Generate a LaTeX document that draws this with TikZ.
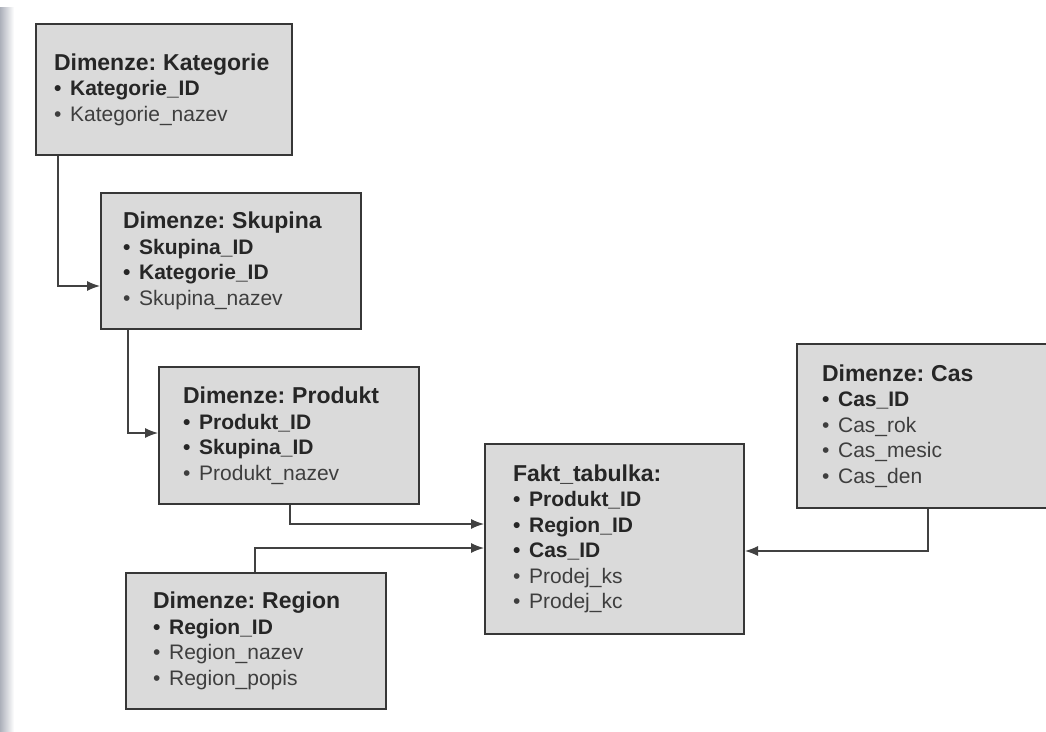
\documentclass[tikz,border=0pt]{standalone}
\usepackage{fontspec}
\setmainfont{Liberation Sans}
\usetikzlibrary{arrows.meta}
\definecolor{boxfill}{RGB}{218,218,218}
\definecolor{boxline}{RGB}{55,55,55}
\definecolor{linecol}{RGB}{65,65,65}
\definecolor{txtdark}{RGB}{38,38,38}
\definecolor{txtlight}{RGB}{62,62,62}
\definecolor{stripcol}{RGB}{172,176,186}
\frenchspacing
\newcommand{\ttl}[1]{{\fontsize{23}{25.5}\selectfont\bfseries\color{txtdark}#1}}
\newcommand{\bitem}[1]{{\bfseries\color{txtdark}•\hspace{0.42em}#1}}
\newcommand{\ritem}[1]{{\color{txtlight}•\hspace{0.42em}#1}}
\tikzset{
  tbl/.style={draw=boxline, fill=boxfill, line width=2pt, anchor=north west,
    align=left, inner ysep=0pt, font=\fontsize{21}{25.5}\selectfont\frenchspacing},
  link/.style={draw=linecol, line width=1.3pt, -{Latex[length=13pt,width=10pt]}},
}
\begin{document}
\begin{tikzpicture}[x=1pt,y=-1pt]
\clip (0,0) rectangle (1046,731);
\fill[white] (0,0) rectangle (1046,731);
\shade[left color=stripcol, right color=white] (0,7) rectangle (14,731);

\node[tbl, minimum width=256pt, minimum height=131pt, inner xsep=18pt, text width=220pt] (kat) at (35,23)
  {\ttl{Dimenze: Kategorie}\\ \bitem{Kategorie\_ID}\\ \ritem{Kategorie\_nazev}};

\node[tbl, minimum width=260pt, minimum height=136pt, inner xsep=22pt, text width=216pt] (sku) at (100,192)
  {\ttl{Dimenze: Skupina}\\ \bitem{Skupina\_ID}\\ \bitem{Kategorie\_ID}\\ \ritem{Skupina\_nazev}};

\node[tbl, minimum width=260pt, minimum height=137pt, inner xsep=24pt, text width=212pt] (prod) at (158,366)
  {\ttl{Dimenze: Produkt}\\ \bitem{Produkt\_ID}\\ \bitem{Skupina\_ID}\\ \ritem{Produkt\_nazev}};

\node[tbl, minimum width=259pt, minimum height=190pt, inner xsep=28pt, text width=203pt] (fakt) at (484,443)
  {\ttl{Fakt\_tabulka:}\\ \bitem{Produkt\_ID}\\ \bitem{Region\_ID}\\ \bitem{Cas\_ID}\\ \ritem{Prodej\_ks}\\ \ritem{Prodej\_kc}};

\node[tbl, minimum width=280pt, minimum height=164pt, inner xsep=25pt, text width=230pt] (cas) at (796,343)
  {\ttl{Dimenze: Cas}\\ \bitem{Cas\_ID}\\ \ritem{Cas\_rok}\\ \ritem{Cas\_mesic}\\ \ritem{Cas\_den}};

\node[tbl, minimum width=260pt, minimum height=136pt, inner xsep=27pt, text width=206pt] (reg) at (125,572)
  {\ttl{Dimenze: Region}\\ \bitem{Region\_ID}\\ \ritem{Region\_nazev}\\ \ritem{Region\_popis}};

\draw[link] ([xshift=23pt]kat.south west) |- ([yshift=-25pt]sku.west);
\draw[link] ([xshift=28pt]sku.south west) |- ([yshift=2.5pt]prod.west);
\draw[link] ([xshift=132pt]prod.south west) |- ([yshift=15pt]fakt.west);
\draw[link] ([xshift=130pt]reg.north west) |- ([yshift=-9pt]fakt.west);
\draw[link] ([xshift=132pt]cas.south west) |- ([yshift=-12pt]fakt.east);
\end{tikzpicture}
\end{document}
